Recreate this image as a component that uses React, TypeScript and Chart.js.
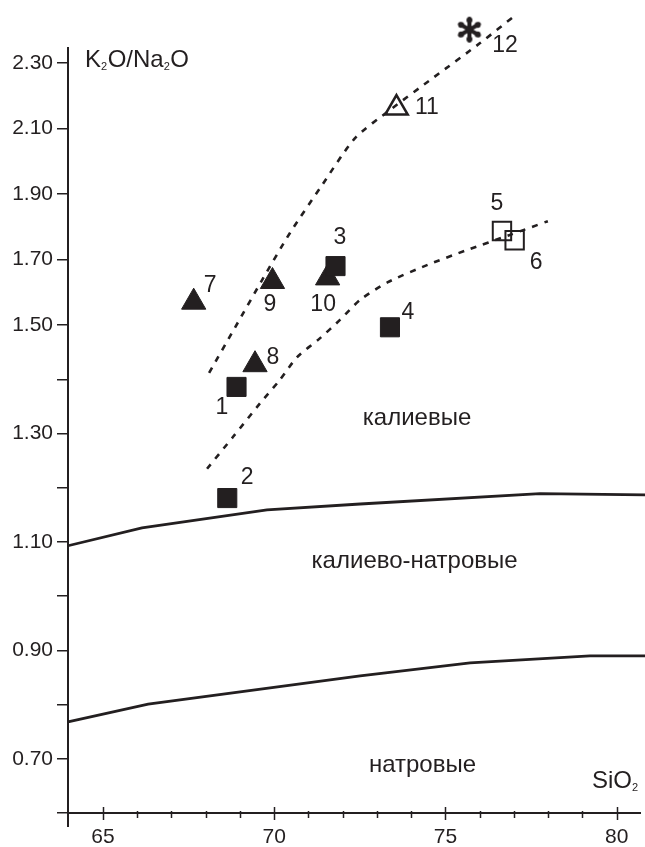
import React, { useEffect, useRef } from 'react';
import { Chart, registerables, LinearScale } from 'chart.js';

// ---------------- axes ----------------
const X_MIN = 63.98;
const X_MAX = 80.68;
const X_LABEL_TICKS = [65, 70, 75, 80];
const X_MARK_TICKS = [65, 66, 67, 68, 69, 70, 71, 72, 73, 74, 75, 76, 77, 78, 79, 80];
const Y_MIN = 0.6;
const Y_MAX = 2.345;
const Y_BREAK = 1.5; // the original axis is compressed above 1.50
const Y_UPPER_COMPRESSION = 0.605;
const Y_TICKS = [0.6, 0.7, 0.8, 0.9, 1.0, 1.1, 1.2, 1.3, 1.4, 1.5, 1.7, 1.9, 2.1, 2.3];
const Y_LABELLED_TICKS = [0.7, 0.9, 1.1, 1.3, 1.5, 1.7, 1.9, 2.1, 2.3];

// ---------------- samples ----------------
const FILLED_SQUARE_IDS = ['1', '2', '3', '4'];
const FILLED_SQUARE_SIO2 = [68.9, 68.63, 71.79, 73.38];
const FILLED_SQUARE_RATIO = [1.386, 1.181, 1.68, 1.496];

const OPEN_SQUARE_IDS = ['5', '6'];
const OPEN_SQUARE_SIO2 = [76.65, 77.02];
const OPEN_SQUARE_RATIO = [1.787, 1.759];

const FILLED_TRIANGLE_IDS = ['7', '8', '9', '10'];
const FILLED_TRIANGLE_SIO2 = [67.65, 69.44, 69.95, 71.56];
const FILLED_TRIANGLE_RATIO = [1.57, 1.427, 1.633, 1.644];

const OPEN_TRIANGLE_IDS = ['11'];
const OPEN_TRIANGLE_SIO2 = [73.57];
const OPEN_TRIANGLE_RATIO = [2.162];

const ASTERISK_IDS = ['12'];
const ASTERISK_SIO2 = [75.7];
const ASTERISK_RATIO = [2.401];

// ---------------- trend curves (dashed) ----------------
const TREND_UPPER_SIO2 = [68.1, 68.86, 69.65, 70.46, 71.34, 72.36, 73.38, 74.64, 76.01, 77.09];
const TREND_UPPER_RATIO = [1.412, 1.496, 1.638, 1.781, 1.918, 2.07, 2.156, 2.254, 2.36, 2.449];
const TREND_LOWER_SIO2 = [68.04, 68.8, 69.59, 70.14, 70.67, 71.34, 71.92, 72.51, 73.32, 74.46, 75.63, 76.88, 77.99];
const TREND_LOWER_RATIO = [1.235, 1.294, 1.356, 1.397, 1.441, 1.476, 1.516, 1.577, 1.631, 1.683, 1.729, 1.775, 1.817];

// ---------------- field boundaries (solid) ----------------
const K_KNA_BOUNDARY_SIO2 = [63.98, 66.14, 69.79, 72.51, 77.76, 80.83];
const K_KNA_BOUNDARY_RATIO = [1.093, 1.126, 1.159, 1.17, 1.189, 1.187];
const KNA_NA_BOUNDARY_SIO2 = [63.98, 66.32, 72.51, 75.72, 79.22, 80.83];
const KNA_NA_BOUNDARY_RATIO = [0.768, 0.801, 0.853, 0.877, 0.89, 0.89];

// ---------------- field names ----------------
const FIELD_NAMES = ['калиевые', 'калиево-натровые', 'натровые'];
const FIELD_NAME_SIO2 = [74.17, 74.1, 74.33];
const FIELD_NAME_RATIO = [1.316, 1.052, 0.676];

// ---------------- styles ----------------
const INK = '#231f20';
const FONT = '"Liberation Sans", Arial, Helvetica, sans-serif';
const LABEL_OFFSETS: Record<string, [number, number]> = {
  '1': [-14.5, 21],
  '2': [20, -20],
  '3': [4.5, -28],
  '4': [18, -14.5],
  '5': [-5, -27],
  '6': [21.5, 22],
  '7': [16.5, -17],
  '8': [18, -7.5],
  '9': [-2.5, 23.5],
  '10': [-4.5, 27],
  '11': [30.5, 0],
  '12': [35.5, 16.5],
};

class BrokenLinearScale extends LinearScale {
  static id = 'brokenLinear';
  warp(v: number) {
    return v <= Y_BREAK ? v : Y_BREAK + (v - Y_BREAK) * Y_UPPER_COMPRESSION;
  }
  unwarp(w: number) {
    return w <= Y_BREAK ? w : Y_BREAK + (w - Y_BREAK) / Y_UPPER_COMPRESSION;
  }
  getPixelForValue(value: number) {
    if (value === null || value === undefined || isNaN(value)) return NaN;
    const a = this.warp(this.min);
    const b = this.warp(this.max);
    return this.getPixelForDecimal((this.warp(value) - a) / (b - a));
  }
  getValueForPixel(pixel: number) {
    const a = this.warp(this.min);
    const b = this.warp(this.max);
    return this.unwarp(a + this.getDecimalForPixel(pixel) * (b - a));
  }
}

Chart.register(...registerables, BrokenLinearScale);

function makeAsterisk(): HTMLCanvasElement {
  const c = document.createElement('canvas');
  c.width = 30;
  c.height = 30;
  const g = c.getContext('2d')!;
  g.strokeStyle = INK;
  g.fillStyle = INK;
  g.lineCap = 'round';
  g.translate(15, 15);
  for (let k = 0; k < 3; k++) {
    const ang = Math.PI / 2 + (k * Math.PI) / 3;
    const cx = Math.cos(ang);
    const cy = Math.sin(ang);
    g.lineWidth = 4;
    g.beginPath();
    g.moveTo(cx * 11, cy * 11);
    g.lineTo(-cx * 11, -cy * 11);
    g.stroke();
    g.beginPath();
    g.arc(cx * 9.5, cy * 9.5, 3, 0, Math.PI * 2);
    g.arc(-cx * 9.5, -cy * 9.5, 3, 0, Math.PI * 2);
    g.fill();
  }
  g.beginPath();
  g.arc(0, 0, 3.5, 0, Math.PI * 2);
  g.fill();
  return c;
}

const pts = (xs: number[], ys: number[]) => xs.map((x, i) => ({ x, y: ys[i] }));

function drawRich(ctx: CanvasRenderingContext2D, x: number, y: number, parts: { t: string; sub?: boolean }[]) {
  ctx.textAlign = 'left';
  ctx.textBaseline = 'alphabetic';
  for (const p of parts) {
    ctx.font = p.sub ? `11px ${FONT}` : `24px ${FONT}`;
    ctx.fillText(p.t, x, p.sub ? y + 3 : y);
    x += ctx.measureText(p.t).width + (p.sub ? 0.5 : 0);
  }
}

const overlayPlugin = {
  id: 'overlay',
  afterDatasetsDraw(chart: any) {
    const { ctx } = chart;
    chart.data.datasets.forEach((ds: any, i: number) => {
      if (!ds.imageMarker) return;
      const meta = chart.getDatasetMeta(i);
      meta.data.forEach((el: any) => {
        const img = ds.imageMarker as HTMLCanvasElement;
        ctx.drawImage(img, el.x - img.width / 2, el.y - img.height / 2);
      });
    });
  },
  afterDraw(chart: any) {
    const { ctx, chartArea, scales } = chart;
    const xs = scales.x;
    const ys = scales.y;
    ctx.save();
    ctx.strokeStyle = INK;
    ctx.fillStyle = INK;
    // y axis continues below the x axis
    ctx.lineWidth = 2;
    ctx.beginPath();
    ctx.moveTo(chartArea.left, chartArea.bottom);
    ctx.lineTo(chartArea.left, chartArea.bottom + 14);
    ctx.stroke();
    // x tick marks crossing the axis
    ctx.lineWidth = 1.5;
    for (const v of X_MARK_TICKS) {
      const px = Math.round(xs.getPixelForValue(v)) + 0.5;
      const major = v % 5 === 0;
      ctx.beginPath();
      ctx.moveTo(px, chartArea.bottom - (major ? 6 : 2));
      ctx.lineTo(px, chartArea.bottom + (major ? 7 : 5));
      ctx.stroke();
    }
    // sample numbers
    ctx.font = `23px ${FONT}`;
    ctx.textAlign = 'center';
    ctx.textBaseline = 'middle';
    chart.data.datasets.forEach((ds: any, i: number) => {
      if (!ds.sampleIds) return;
      const meta = chart.getDatasetMeta(i);
      meta.data.forEach((el: any, j: number) => {
        const id = ds.sampleIds[j];
        const off = LABEL_OFFSETS[id] || [0, 0];
        ctx.fillText(id, el.x + off[0], el.y + off[1]);
      });
    });
    // field names
    ctx.font = `24px ${FONT}`;
    ctx.textBaseline = 'alphabetic';
    FIELD_NAMES.forEach((name, i) => {
      ctx.fillText(name, xs.getPixelForValue(FIELD_NAME_SIO2[i]), ys.getPixelForValue(FIELD_NAME_RATIO[i]));
    });
    // axis titles
    drawRich(ctx, chartArea.left + 17, chartArea.top + 19, [
      { t: 'K' }, { t: '2', sub: true }, { t: 'O/Na' }, { t: '2', sub: true }, { t: 'O' },
    ]);
    drawRich(ctx, chartArea.right - 48, chartArea.bottom - 25, [{ t: 'SiO' }, { t: '2', sub: true }]);
    ctx.restore();
  },
};

export default function App() {
  const ref = useRef<HTMLCanvasElement>(null);
  useEffect(() => {
    if (!ref.current) return;
    const asterisk = makeAsterisk();
    const lineBase = {
      showLine: true,
      pointRadius: 0,
      borderColor: INK,
      backgroundColor: INK,
      fill: false,
      clip: false as any,
    };
    const chart = new Chart(ref.current, {
      type: 'scatter',
      data: {
        datasets: [
          {
            sampleIds: FILLED_SQUARE_IDS,
            data: pts(FILLED_SQUARE_SIO2, FILLED_SQUARE_RATIO),
            pointStyle: 'rect',
            pointRadius: 13.5,
            backgroundColor: INK,
            borderColor: INK,
            borderWidth: 1,
            order: 1,
          },
          {
            sampleIds: OPEN_SQUARE_IDS,
            data: pts(OPEN_SQUARE_SIO2, OPEN_SQUARE_RATIO),
            pointStyle: 'rect',
            pointRadius: 13,
            backgroundColor: 'rgba(255,255,255,0)',
            borderColor: INK,
            borderWidth: 2,
            order: 1,
          },
          {
            sampleIds: FILLED_TRIANGLE_IDS,
            data: pts(FILLED_TRIANGLE_SIO2, FILLED_TRIANGLE_RATIO),
            pointStyle: 'triangle',
            pointRadius: 14,
            backgroundColor: INK,
            borderColor: INK,
            borderWidth: 1,
            order: 1,
          },
          {
            sampleIds: OPEN_TRIANGLE_IDS,
            data: pts(OPEN_TRIANGLE_SIO2, OPEN_TRIANGLE_RATIO),
            pointStyle: 'triangle',
            pointRadius: 13,
            backgroundColor: 'rgba(255,255,255,0)',
            borderColor: INK,
            borderWidth: 2.5,
            order: 1,
          },
          {
            sampleIds: ASTERISK_IDS,
            imageMarker: asterisk,
            data: pts(ASTERISK_SIO2, ASTERISK_RATIO),
            pointRadius: 0,
            clip: false as any,
            order: 1,
          },
          {
            ...lineBase,
            data: pts(TREND_UPPER_SIO2, TREND_UPPER_RATIO),
            borderWidth: 2.6,
            borderDash: [6, 7],
            tension: 0.25,
            order: 2,
          },
          {
            ...lineBase,
            data: pts(TREND_LOWER_SIO2, TREND_LOWER_RATIO),
            borderWidth: 2.6,
            borderDash: [6, 7],
            tension: 0.25,
            order: 2,
          },
          {
            ...lineBase,
            data: pts(K_KNA_BOUNDARY_SIO2, K_KNA_BOUNDARY_RATIO),
            borderWidth: 2.8,
            order: 3,
          },
          {
            ...lineBase,
            data: pts(KNA_NA_BOUNDARY_SIO2, KNA_NA_BOUNDARY_RATIO),
            borderWidth: 2.8,
            order: 3,
          },
        ] as any,
      },
      options: {
        animation: false,
        responsive: false,
        devicePixelRatio: 1,
        events: [],
        layout: { autoPadding: false, padding: { top: 48, right: 5, bottom: 0, left: 0 } },
        plugins: { legend: { display: false }, tooltip: { enabled: false }, title: { display: false } },
        scales: {
          x: {
            type: 'linear',
            position: 'bottom',
            min: X_MIN,
            max: X_MAX,
            afterBuildTicks: (s: any) => {
              s.ticks = X_LABEL_TICKS.map((v) => ({ value: v }));
            },
            afterFit: (s: any) => {
              s.height = 34;
              s.paddingLeft = 0;
              s.paddingRight = 0;
            },
            grid: { display: false, drawTicks: false },
            border: { display: true, color: INK, width: 2 },
            ticks: {
              color: INK,
              font: { family: FONT, size: 21 },
              padding: 12,
              maxRotation: 0,
              autoSkip: false,
              callback: (v: any) => String(v),
            },
          },
          y: {
            type: 'brokenLinear' as any,
            position: 'left',
            min: Y_MIN,
            max: Y_MAX,
            afterBuildTicks: (s: any) => {
              s.ticks = Y_TICKS.map((v) => ({ value: v }));
            },
            afterFit: (s: any) => {
              s.width = 68;
              s.paddingTop = 0;
              s.paddingBottom = 0;
            },
            grid: { display: true, drawOnChartArea: false, drawTicks: true, tickLength: 11, color: INK, lineWidth: 1.5 },
            border: { display: true, color: INK, width: 2 },
            ticks: {
              color: INK,
              font: { family: FONT, size: 21 },
              padding: 4,
              autoSkip: false,
              callback: (v: any) => (Y_LABELLED_TICKS.some((t) => Math.abs(t - v) < 1e-6) ? Number(v).toFixed(2) : ''),
            },
          },
        } as any,
      },
      plugins: [overlayPlugin],
    });
    return () => chart.destroy();
  }, []);
  return (
    <div style={{ position: 'fixed', left: 0, top: 0, width: 645, height: 847, background: '#fff' }}>
      <canvas ref={ref} width={645} height={847} style={{ display: 'block' }} />
    </div>
  );
}
